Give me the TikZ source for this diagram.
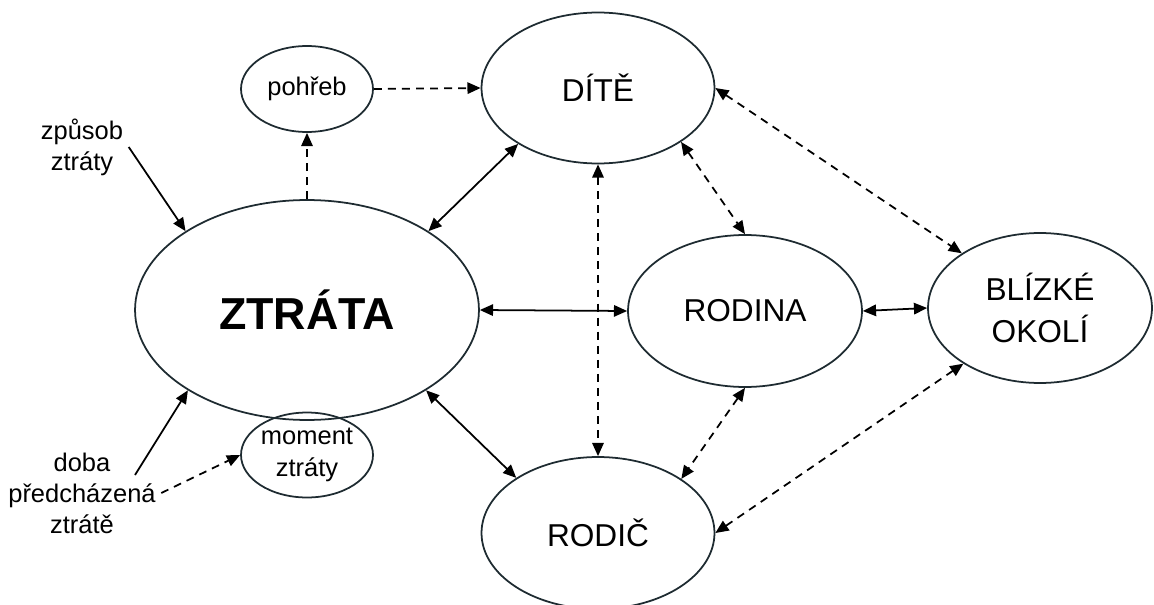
\documentclass[tikz,border=0pt]{standalone}
\usepackage{fontspec}
\setmainfont{Liberation Sans}
\usetikzlibrary{shapes.geometric,arrows.meta}
\definecolor{rim}{HTML}{1E2B31}

\tikzset{
    bubble/.style={draw=rim, line width=1pt, ellipse, inner sep=0pt, align=center,
        font=\fontsize{18}{24}\selectfont},
    smallbubble/.style={bubble, minimum width=2.64cm, minimum height=1.72cm,
        font=\fontsize{14.5}{18}\selectfont},
    remark/.style={align=center, inner sep=3pt, font=\fontsize{14.5}{17.6}\selectfont},
    link/.style={line width=1pt, -{Triangle[length=7.5pt,width=6.5pt]}},
    twoway/.style={line width=1pt, {Triangle[length=7.5pt,width=6.5pt]}-{Triangle[length=7.5pt,width=6.5pt]}},
    broken/.style={dash pattern=on 4.5pt off 3.5pt},
}

\begin{document}
\begin{tikzpicture}[x=0.02cm, y=-0.02cm]
        \useasboundingbox (0,0) rectangle (1154,605);

        % main ellipses
        \node[bubble, minimum width=6.88cm, minimum height=4.4cm,
            font=\bfseries\fontsize{25.5}{30}\selectfont] (ztrata) at (307,310) {ZTRÁTA};
        \node[bubble, minimum width=4.66cm, minimum height=3.02cm] (dite) at (598,88) {DÍTĚ};
        \node[bubble, minimum width=4.68cm, minimum height=3.04cm] (rodina) at (745,311) {RODINA};
        \node[bubble, minimum width=4.66cm, minimum height=3.04cm] (rodic) at (598,533) {RODIČ};
        \node[bubble, minimum width=4.48cm, minimum height=3.0cm] (okoli) at (1040,308) {BLÍZKÉ\\OKOLÍ};

        % small ellipses
        \node[smallbubble] (pohreb) at (307,89) {pohřeb};
        \node[smallbubble, minimum height=1.7cm] (moment) at (307,455) {moment\\ztráty};

        % side remarks
        \node[remark] (zpusob) at (82,147) {způsob\\ztráty};
        \node[remark] (doba) at (82,493) {doba\\předcházená\\ztrátě};
        \coordinate (doba-out) at (135,475);

        % solid arrows
        \draw[link] (zpusob.east) -- (ztrata.147);
        \draw[link] (doba-out) -- (ztrata.214);
        \draw[twoway] (ztrata.33) -- (dite.215);
        \draw[twoway] (ztrata.east) -- (rodina.west);
        \draw[twoway] (ztrata.-34) -- (rodic.146);
        \draw[twoway] (rodina.east) -- (okoli.west);

        % dashed arrows
        \draw[link, broken] (doba.east) -- (moment.west);
        \draw[link, broken] (ztrata.north) -- (pohreb.south);
        \draw[link, broken] (pohreb.east) -- (dite.west);
        \draw[twoway, broken] (dite.south) -- (rodic.north);
        \draw[twoway, broken] (dite.-33) -- (rodina.north);
        \draw[twoway, broken] (rodina.south) -- (rodic.33);
        \draw[twoway, broken] (dite.east) -- (okoli.145);
        \draw[twoway, broken] (rodic.east) -- (okoli.216);
    \end{tikzpicture}
\end{document}
